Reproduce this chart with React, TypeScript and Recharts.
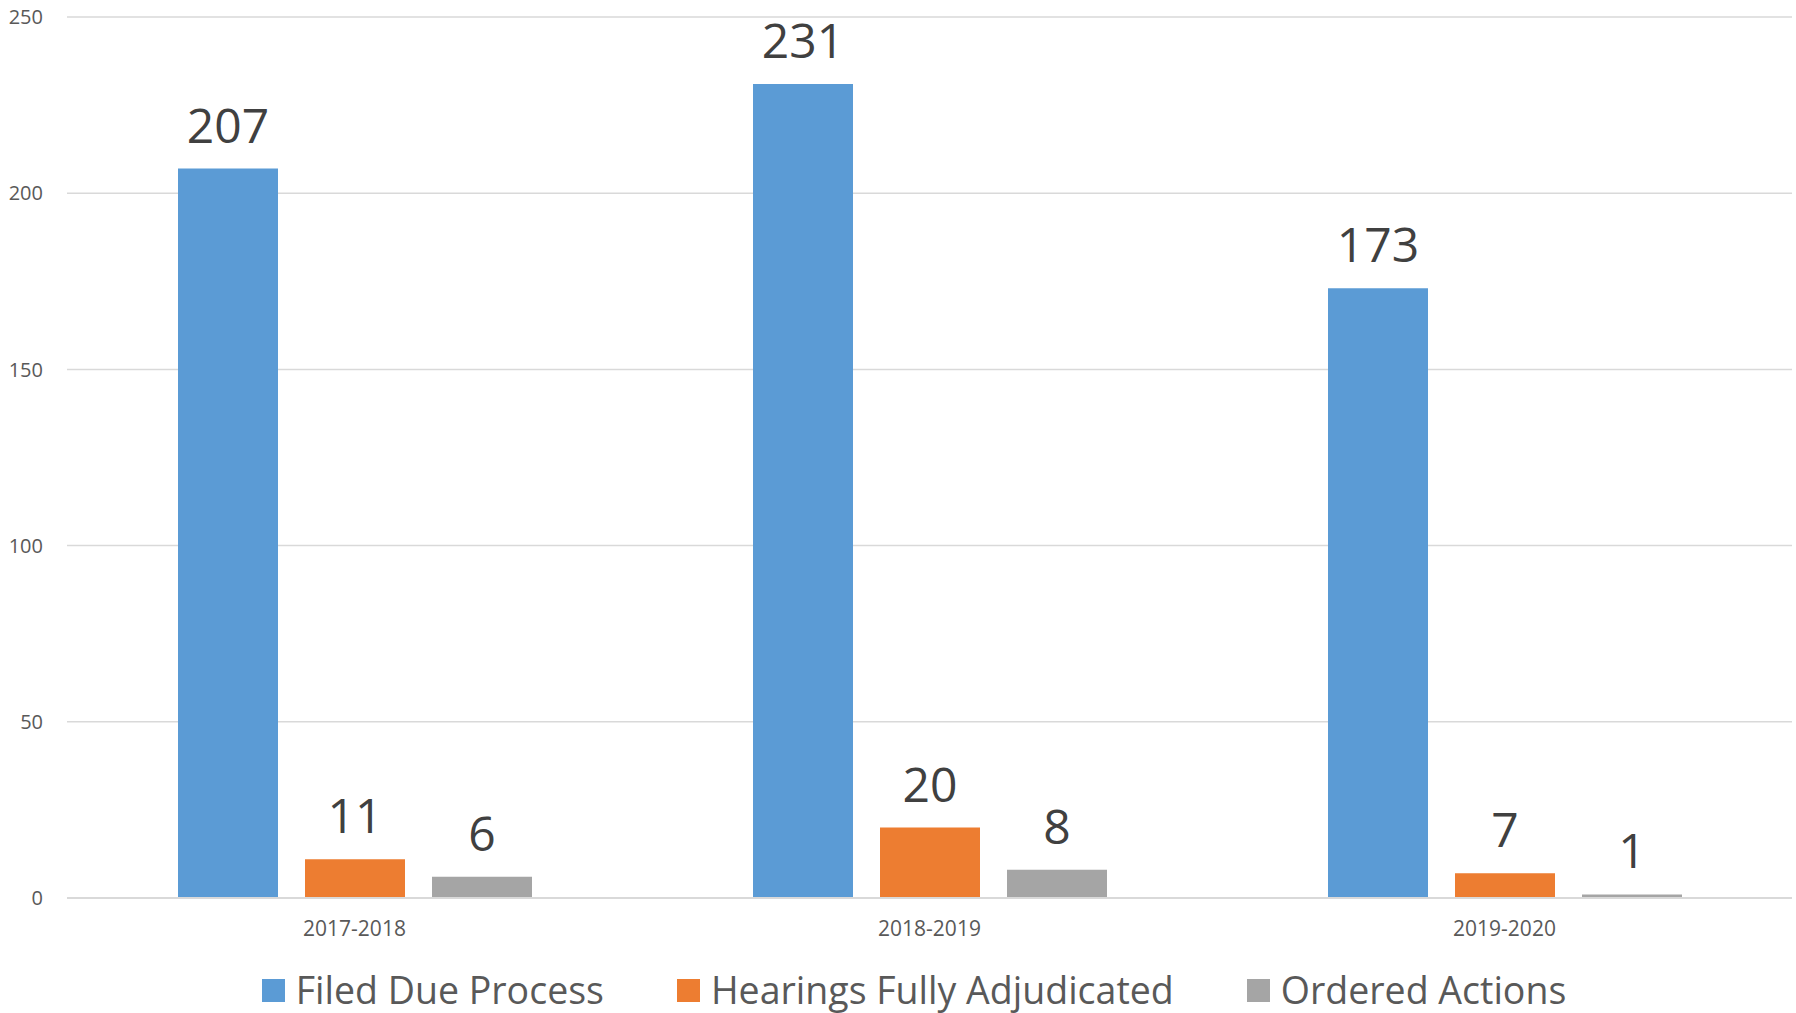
import { BarChart, Bar, XAxis, YAxis, CartesianGrid, Legend, LabelList } from 'recharts';

const years = ['2017-2018', '2018-2019', '2019-2020'];
const filedDueProcess = [207, 231, 173];
const hearingsAdjudicated = [11, 20, 7];
const orderedActions = [6, 8, 1];
const yTicks = [0, 50, 100, 150, 200, 250];

const seriesInfo = [
  { key: 'filed', name: 'Filed Due Process', color: '#5B9BD5' },
  { key: 'hearings', name: 'Hearings Fully Adjudicated', color: '#ED7D31' },
  { key: 'ordered', name: 'Ordered Actions', color: '#A5A5A5' },
];

const rows = years.map((year, i) => ({
  year,
  filed: filedDueProcess[i],
  hearings: hearingsAdjudicated[i],
  ordered: orderedActions[i],
}));

const FONT = '"Open Sans", "Noto Sans", sans-serif';

const LegendBox = () => (
  <div style={{ height: 65, display: 'flex', justifyContent: 'center', alignItems: 'flex-end', paddingLeft: 36, paddingBottom: 3, boxSizing: 'border-box', fontFamily: FONT }}>
    {seriesInfo.map((s, i) => (
      <div key={s.key} style={{ display: 'flex', alignItems: 'center', marginRight: i < seriesInfo.length - 1 ? 73 : 0 }}>
        <div style={{ width: 23, height: 23, background: s.color, marginRight: 11 }} />
        <span style={{ fontSize: 37.5, color: '#595959', lineHeight: '40px', whiteSpace: 'nowrap' }}>{s.name}</span>
      </div>
    ))}
  </div>
);

const App = () => {
  return (
    <div style={{ position: 'absolute', left: 0, top: 0, width: 1796, height: 1013, background: '#fff' }}>
      <BarChart
        width={1796}
        height={1013}
        data={rows}
        margin={{ top: 17, right: 4, left: 0, bottom: 0 }}
        barGap={27}
      >
        <CartesianGrid vertical={false} stroke="#D9D9D9" strokeWidth={1.5} />
        <XAxis
          dataKey="year"
          tickLine={false}
          axisLine={{ stroke: '#D9D9D9', strokeWidth: 2 }}
          tick={{ fontSize: 21, fill: '#595959', fontFamily: FONT }}
          tickMargin={17}
          height={50}
        />
        <YAxis
          domain={[0, 250]}
          ticks={yTicks}
          width={67}
          tickLine={false}
          axisLine={false}
          tick={{ fontSize: 20, fill: '#595959', fontFamily: FONT }}
          tickMargin={18}
        />
        <Legend verticalAlign="bottom" height={65} content={() => <LegendBox />} />
        {seriesInfo.map((s) => (
          <Bar key={s.key} dataKey={s.key} name={s.name} fill={s.color} barSize={100} isAnimationActive={false}>
            <LabelList dataKey={s.key} position="top" offset={26} style={{ fontSize: 48, fill: '#404040', fontFamily: FONT }} />
          </Bar>
        ))}
      </BarChart>
    </div>
  );
};

export default App;
